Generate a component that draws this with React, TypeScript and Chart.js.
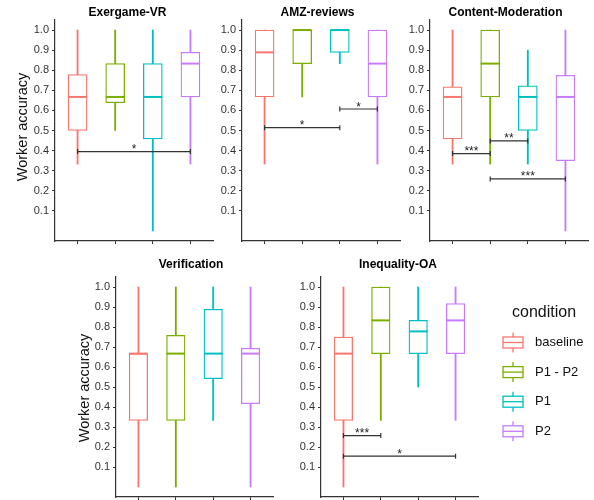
import React, { useEffect, useRef } from "react";
import { Chart, registerables } from "chart.js";

Chart.register(...registerables);

// ---------------- data ----------------
const conditions = ["baseline", "P1 - P2", "P1", "P2"];
const colors = ["#F8766D", "#7CAE00", "#00BFC4", "#C77CFF"];
const panelTitles = ["Exergame-VR", "AMZ-reviews", "Content-Moderation", "Verification", "Inequality-OA"];
const xPositions = [1, 2, 3, 4];
const yTicks = [0.1, 0.2, 0.3, 0.4, 0.5, 0.6, 0.7, 0.8, 0.9, 1.0];
const yAxisTitle = "Worker accuracy";
const legendTitle = "condition";

// per panel (rows) and condition (columns)
const whiskerLow = [
  [0.333, 0.5, 0.0, 0.333],
  [0.333, 0.667, 0.833, 0.333],
  [0.333, 0.333, 0.333, 0.0],
  [0.0, 0.0, 0.333, 0.0],
  [0.0, 0.333, 0.5, 0.333],
];
const whiskerHigh = [
  [1.0, 1.0, 1.0, 1.0],
  [1.0, 1.0, 1.0, 1.0],
  [1.0, 1.0, 0.9, 1.0],
  [1.0, 1.0, 1.0, 1.0],
  [1.0, 1.0, 1.0, 1.0],
];
const lowerQuartile = [
  [0.5, 0.638, 0.458, 0.667],
  [0.667, 0.833, 0.889, 0.667],
  [0.458, 0.667, 0.5, 0.35],
  [0.333, 0.333, 0.542, 0.417],
  [0.333, 0.667, 0.667, 0.667],
];
const upperQuartile = [
  [0.778, 0.833, 0.833, 0.889],
  [1.0, 1.0, 1.0, 1.0],
  [0.717, 1.0, 0.722, 0.775],
  [0.667, 0.758, 0.889, 0.694],
  [0.75, 1.0, 0.833, 0.917],
];
const medians = [
  [0.667, 0.667, 0.667, 0.833],
  [0.889, 1.0, 1.0, 0.833],
  [0.667, 0.833, 0.667, 0.667],
  [0.667, 0.667, 0.667, 0.667],
  [0.667, 0.833, 0.778, 0.833],
];

// significance brackets
const sigPanel = [0, 1, 1, 2, 2, 2, 4, 4];
const sigFrom = [1, 1, 3, 1, 2, 2, 1, 1];
const sigTo = [4, 3, 4, 2, 3, 4, 2, 4];
const sigY = [0.395, 0.514, 0.607, 0.385, 0.448, 0.259, 0.257, 0.154];
const sigLabel = ["*", "*", "*", "***", "**", "***", "***", "*"];

// ---------------- layout ----------------
const W = 594;
const H = 500;
const FONT = "'Liberation Sans', Arial, Helvetica, sans-serif";
const AXIS = "#333333";
const YW = 40;
const XH = 3;

const layouts = [
  { left: 55, right: 213, top: 20, bottom: 241, boxW: 19, titleX: 127.5, titleY: 13, yTitleX: 23, yTitleY: 127 },
  { left: 242, right: 400, top: 20, bottom: 241, boxW: 19, titleX: 317.5, titleY: 13, yTitleX: 0, yTitleY: 0 },
  { left: 430, right: 588, top: 20, bottom: 241, boxW: 19, titleX: 505.5, titleY: 13, yTitleX: 0, yTitleY: 0 },
  { left: 116, right: 273, top: 277, bottom: 497, boxW: 18.5, titleX: 191, titleY: 265, yTitleX: 85, yTitleY: 388 },
  { left: 321, right: 478, top: 277, bottom: 497, boxW: 18.5, titleX: 398, titleY: 265, yTitleX: 0, yTitleY: 0 },
];
const legendLayout = { titleX: 512, titleY: 313, keyX: 503, keyW: 20, keyH: 11, firstY: 342.5, step: 29.6, labelX: 535 };

function extrasPlugin(p: number) {
  const lay = layouts[p];
  return {
    id: "boxExtras" + p,
    afterDatasetsDraw(chart: any) {
      const ctx = chart.ctx;
      const xs = chart.scales.x;
      const ys = chart.scales.y;
      const meta = chart.getDatasetMeta(0);
      ctx.save();
      // medians
      meta.data.forEach((el: any, i: number) => {
        const { x, width } = el.getProps(["x", "width"], true);
        const y = ys.getPixelForValue(medians[p][i]);
        ctx.strokeStyle = colors[i];
        ctx.lineWidth = 2;
        ctx.beginPath();
        ctx.moveTo(x - width / 2, y);
        ctx.lineTo(x + width / 2, y);
        ctx.stroke();
      });
      // significance brackets
      sigPanel.forEach((sp, k) => {
        if (sp !== p) return;
        const x1 = xs.getPixelForValue(sigFrom[k]);
        const x2 = xs.getPixelForValue(sigTo[k]);
        const y = ys.getPixelForValue(sigY[k]);
        ctx.strokeStyle = AXIS;
        ctx.lineWidth = 1.2;
        ctx.beginPath();
        ctx.moveTo(x1, y);
        ctx.lineTo(x2, y);
        ctx.moveTo(x1, y - 2.5);
        ctx.lineTo(x1, y + 2.5);
        ctx.moveTo(x2, y - 2.5);
        ctx.lineTo(x2, y + 2.5);
        ctx.stroke();
        ctx.fillStyle = "#222";
        ctx.font = `12px ${FONT}`;
        ctx.textAlign = "center";
        ctx.textBaseline = "alphabetic";
        ctx.fillText(sigLabel[k], (x1 + x2) / 2, y + 1.5);
      });
      ctx.restore();
    },
    afterDraw(chart: any) {
      const ctx = chart.ctx;
      ctx.save();
      ctx.fillStyle = "#000";
      ctx.font = `bold 12px ${FONT}`;
      ctx.textAlign = "center";
      ctx.textBaseline = "middle";
      ctx.fillText(panelTitles[p], lay.titleX, lay.titleY);
      if (lay.yTitleX > 0) {
        ctx.save();
        ctx.translate(lay.yTitleX, lay.yTitleY);
        ctx.rotate(-Math.PI / 2);
        ctx.font = `14.5px ${FONT}`;
        ctx.fillStyle = "#111";
        ctx.fillText(yAxisTitle, 0, 0);
        ctx.restore();
      }
      if (p === 4) {
        const L = legendLayout;
        ctx.font = `16px ${FONT}`;
        ctx.textAlign = "left";
        ctx.fillStyle = "#111";
        ctx.fillText(legendTitle, L.titleX, L.titleY);
        conditions.forEach((c, i) => {
          const cy = L.firstY + i * L.step;
          const cx = L.keyX + L.keyW / 2;
          ctx.strokeStyle = colors[i];
          ctx.lineWidth = 1.3;
          ctx.beginPath();
          ctx.moveTo(cx, cy - 10);
          ctx.lineTo(cx, cy - L.keyH / 2);
          ctx.moveTo(cx, cy + L.keyH / 2);
          ctx.lineTo(cx, cy + 10);
          ctx.stroke();
          ctx.fillStyle = "#fff";
          ctx.fillRect(L.keyX, cy - L.keyH / 2, L.keyW, L.keyH);
          ctx.strokeRect(L.keyX, cy - L.keyH / 2, L.keyW, L.keyH);
          ctx.beginPath();
          ctx.moveTo(L.keyX, cy);
          ctx.lineTo(L.keyX + L.keyW, cy);
          ctx.stroke();
          ctx.fillStyle = "#111";
          ctx.font = `13px ${FONT}`;
          ctx.fillText(c, L.labelX, cy);
        });
      }
      ctx.restore();
    },
  };
}

function zeroPad(s: any) {
  s.paddingLeft = 0;
  s.paddingRight = 0;
  s.paddingTop = 0;
  s.paddingBottom = 0;
}

function buildConfig(p: number): any {
  const lay = layouts[p];
  return {
    type: "bar",
    data: {
      datasets: [
        {
          label: "box",
          data: xPositions.map((x, i) => ({ x, y: [lowerQuartile[p][i], upperQuartile[p][i]] })),
          backgroundColor: "#ffffff",
          borderColor: colors,
          borderWidth: 1.3,
          borderSkipped: false,
          barThickness: lay.boxW,
          grouped: false,
          order: 0,
        },
        {
          label: "whisker",
          data: xPositions.map((x, i) => ({ x, y: [whiskerLow[p][i], whiskerHigh[p][i]] })),
          backgroundColor: colors,
          borderWidth: 0,
          barThickness: 1.2,
          grouped: false,
          order: 1,
        },
      ],
    },
    options: {
      responsive: false,
      animation: false,
      events: [],
      layout: {
        padding: { left: lay.left - YW, top: lay.top, right: W - lay.right, bottom: H - lay.bottom - XH },
      },
      plugins: { legend: { display: false }, tooltip: { enabled: false }, title: { display: false } },
      scales: {
        x: {
          type: "linear",
          min: 0.4,
          max: 4.6,
          offset: false,
          grid: { display: true, drawOnChartArea: false, drawTicks: true, tickLength: 3, color: AXIS, offset: false },
          border: { display: true, color: AXIS, width: 1.2 },
          ticks: { display: false },
          afterBuildTicks: (s: any) => {
            s.ticks = xPositions.map((v) => ({ value: v }));
          },
          afterFit: (s: any) => {
            s.height = XH;
            zeroPad(s);
          },
        },
        y: {
          type: "linear",
          min: -0.05,
          max: 1.05,
          grid: { display: true, drawOnChartArea: false, drawTicks: true, tickLength: 3, color: AXIS },
          border: { display: true, color: AXIS, width: 1.2 },
          ticks: {
            padding: 3,
            color: "#333",
            font: { family: FONT, size: 11 },
            callback: (v: any) => Number(v).toFixed(1),
          },
          afterBuildTicks: (s: any) => {
            s.ticks = yTicks.map((v) => ({ value: v }));
          },
          afterFit: (s: any) => {
            s.width = YW;
            zeroPad(s);
          },
        },
      },
    },
    plugins: [extrasPlugin(p)],
  };
}

export default function App() {
  const refs = useRef<(HTMLCanvasElement | null)[]>([]);
  useEffect(() => {
    const charts = layouts.map((_, p) => new Chart(refs.current[p] as HTMLCanvasElement, buildConfig(p)));
    return () => charts.forEach((c) => c.destroy());
  }, []);
  return (
    <div style={{ position: "fixed", left: 0, top: 0, width: W, height: H, background: "#fff" }}>
      {layouts.map((_, p) => (
        <canvas
          key={p}
          ref={(el) => {
            refs.current[p] = el;
          }}
          width={W}
          height={H}
          style={{ position: "absolute", left: 0, top: 0, width: W, height: H }}
        />
      ))}
    </div>
  );
}
